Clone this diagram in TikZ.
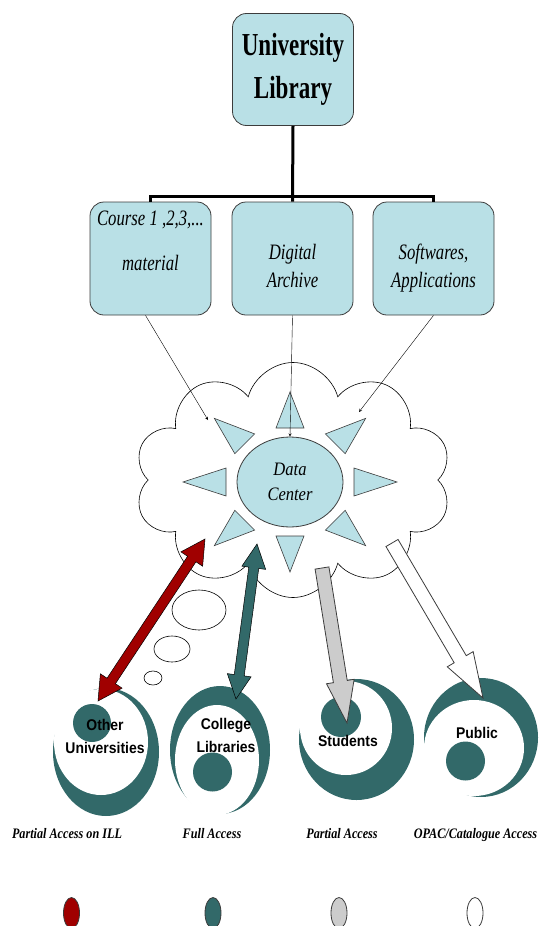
\documentclass[tikz,border=0pt]{standalone}
\usepackage{fontspec}
\setmainfont{Liberation Serif}
\newfontfamily\titlefont{Liberation Serif}[FakeStretch=0.72]
\newfontfamily\boxfont{Liberation Serif}[FakeStretch=0.76]
\newfontfamily\dcfont{Liberation Serif}[FakeStretch=0.87]
\newfontfamily\legfont{Liberation Serif}[FakeStretch=0.84]
\newfontfamily\audfont{Liberation Sans}[FakeStretch=0.9]
\usetikzlibrary{calc,shapes.geometric,shapes.symbols}

\definecolor{boxblue}{RGB}{185,224,230}
\definecolor{tealdark}{RGB}{50,105,105}
\definecolor{accred}{RGB}{160,0,0}
\definecolor{accgray}{RGB}{204,204,204}
\definecolor{edgegray}{RGB}{60,60,60}

% 单向粗箭头: 样式, 起点, 终点, 半杆宽, 半头宽, 头长
\newcommand{\singlearrow}[6]{%
  \draw[#1] let \p1=($(#3)-(#2)$), \n1={atan2(\y1,\x1)} in
    ($(#2)+(\n1+90:#4)$)
    -- ($(#3)+(\n1+180:#6)+(\n1+90:#4)$)
    -- ($(#3)+(\n1+180:#6)+(\n1+90:#5)$)
    -- (#3)
    -- ($(#3)+(\n1+180:#6)+(\n1-90:#5)$)
    -- ($(#3)+(\n1+180:#6)+(\n1-90:#4)$)
    -- ($(#2)+(\n1-90:#4)$) -- cycle;}
% 双向粗箭头
\newcommand{\doublearrow}[6]{%
  \draw[#1] let \p1=($(#3)-(#2)$), \n1={atan2(\y1,\x1)} in
    (#2)
    -- ($(#2)+(\n1:#6)+(\n1+90:#5)$)
    -- ($(#2)+(\n1:#6)+(\n1+90:#4)$)
    -- ($(#3)+(\n1+180:#6)+(\n1+90:#4)$)
    -- ($(#3)+(\n1+180:#6)+(\n1+90:#5)$)
    -- (#3)
    -- ($(#3)+(\n1+180:#6)+(\n1-90:#5)$)
    -- ($(#3)+(\n1+180:#6)+(\n1-90:#4)$)
    -- ($(#2)+(\n1:#6)+(\n1-90:#4)$)
    -- ($(#2)+(\n1:#6)+(\n1-90:#5)$)
    -- cycle;}

\begin{document}
\begin{tikzpicture}[
        % 像素坐标, y 向下
        x=1pt, y=-1pt,
        libbox/.style={draw=edgegray, fill=boxblue, rounded corners=14pt, line width=0.8pt,
                       minimum width=121pt, minimum height=112pt},
        subbox/.style={libbox, minimum height=113pt},
        boxtext/.style={align=center, font=\boxfont\itshape\fontsize{22}{28}\selectfont},
        tree/.style={line width=3pt},
        feed/.style={->, >=stealth, thin},
        ray/.style={draw=edgegray, fill=boxblue, line width=0.6pt},
        bubble/.style={draw, fill=white, line width=0.6pt},
        ring/.style={ellipse, fill=tealdark, inner sep=0pt},
        audtext/.style={align=center, font=\audfont\bfseries\fontsize{15.5}{23}\selectfont},
        legtext/.style={anchor=base, font=\legfont\bfseries\itshape\fontsize{14.5}{16}\selectfont},
        legdot/.style={ellipse, draw=edgegray, line width=0.8pt, minimum width=16pt, minimum height=31pt, inner sep=0pt},
        redarrow/.style={draw=black, fill=accred, line width=0.5pt},
        tealarrow/.style={draw=black, fill=tealdark, line width=0.5pt},
        grayarrow/.style={draw=edgegray, fill=accgray, line width=0.8pt},
        whitearrow/.style={draw=edgegray, fill=white, line width=0.8pt}
    ]

    \useasboundingbox (0,0) rectangle (538,926);

    % --- 1. 图书馆与三个资源框 ---
    \node[libbox, align=center, font=\titlefont\bfseries\fontsize{32}{43}\selectfont] (lib) at (293,69.5) {University\\Library};

    \node[subbox] (c1) at (150.5,258.5) {};
    \node[subbox] (c2) at (292.5,258.5) {};
    \node[subbox] (c3) at (433.5,258.5) {};
    \node[boxtext, font=\boxfont\itshape\fontsize{22}{45}\selectfont] (c1txt) at (150.5,241) {Course 1 ,2,3,...\\material};
    \node[boxtext] (c2txt) at (292.5,265.5) {Digital\\Archive};
    \node[boxtext] (c3txt) at (433.5,268) {Softwares,\\Applications};

    \draw[tree] (lib.south) -- (c2.north);
    \draw[tree] (c1.north) -- ([yshift=5pt]c1.north) -| (c3.north);

    % --- 2. 云与数据中心 ---
    \node[cloud, cloud puffs=10, cloud ignores aspect, draw, fill=white, line width=0.6pt,
          minimum width=317pt, minimum height=235pt] (sky) at (293,480) {};

    \node[bubble, ellipse, minimum width=54pt, minimum height=40pt] (b1) at (199,610) {};
    \node[bubble, ellipse, minimum width=36pt, minimum height=26pt] (b2) at (172,649) {};
    \node[bubble, ellipse, minimum width=18pt, minimum height=14pt] (b3) at (153,678) {};

    \foreach \a in {0,45,...,315} {
        \draw[ray] ({290+107*cos(\a)},{482-90*sin(\a)})
            -- ({290+64*cos(\a)+14*sin(\a)},{482-54*sin(\a)+14*cos(\a)})
            -- ({290+64*cos(\a)-14*sin(\a)},{482-54*sin(\a)-14*cos(\a)}) -- cycle;
    }

    \node[ellipse, draw=edgegray, fill=boxblue, line width=0.8pt, minimum width=106pt, minimum height=90pt,
          inner sep=0pt, align=center, font=\dcfont\itshape\fontsize{19}{25}\selectfont] (dc) at (290,482) {Data\\Center};

    % 资源流入
    \coordinate (in1) at (208,420);
    \coordinate (in3) at (359,412);
    \draw[feed] ([xshift=-5pt]c1.south) -- (in1);
    \draw[feed] (c2.south) -- (dc.north);
    \draw[feed] (c3.south) -- (in3);

    % --- 3. 用户群 ---
    \node[ring, minimum width=106pt, minimum height=128pt] (univ) at (106,752) {};
    \fill[white] (101,742) ellipse [x radius=47pt, y radius=53pt];
    \fill[tealdark] (92,723) circle [radius=19pt];
    \node[audtext] (univtxt) at (105,736) {Other\\Universities};

    \node[ring, minimum width=100pt, minimum height=128pt] (coll) at (220,750) {};
    \fill[white] (217,760) ellipse [x radius=42pt, y radius=55pt];
    \fill[tealdark] (212.5,772) circle [radius=19.5pt];
    \node[audtext] (colltxt) at (226,735) {College\\Libraries};

    \node[ring, minimum width=115pt, minimum height=121pt] (stud) at (356.5,739.5) {};
    \fill[white] (346,728) ellipse [x radius=46pt, y radius=47pt];
    \fill[tealdark] (341,717) circle [radius=20pt];
    \node[audtext] (studtxt) at (348,741) {Students};

    \node[ring, minimum width=114pt, minimum height=119pt] (pub) at (481,737.5) {};
    \fill[white] (474,748) ellipse [x radius=50pt, y radius=48pt];
    \fill[tealdark] (465.5,761) circle [radius=19.5pt];
    \node[audtext] (pubtxt) at (477,733) {Public};

    % --- 4. 访问箭头 ---
    \coordinate (ra) at (205,539); \coordinate (rb) at (98,701);
    \coordinate (ta) at (257,544); \coordinate (tb) at (236,699);
    \coordinate (ga) at (322,568); \coordinate (gb) at (347,723);
    \coordinate (wa) at (392,543); \coordinate (wb) at (483,698);

    \doublearrow{redarrow}{ra}{rb}{5pt}{13pt}{24pt}
    \doublearrow{tealarrow}{ta}{tb}{5pt}{12pt}{24pt}
    \singlearrow{grayarrow}{ga}{gb}{7pt}{14pt}{42pt}
    \singlearrow{whitearrow}{wa}{wb}{7pt}{15pt}{45pt}

    % --- 5. 图例 ---
    \node[legtext] (l1) at (67,838) {Partial Access on ILL};
    \node[legtext] (l2) at (212,838) {Full Access};
    \node[legtext] (l3) at (342,838) {Partial Access};
    \node[legtext] (l4) at (475.5,838) {OPAC/Catalogue Access};

    \node[legdot, fill=accred] (k1) at (71.5,913) {};
    \node[legdot, fill=tealdark] (k2) at (213,913) {};
    \node[legdot, fill=accgray] (k3) at (339,913) {};
    \node[legdot, fill=white] (k4) at (475,913) {};

\end{tikzpicture}
\end{document}
